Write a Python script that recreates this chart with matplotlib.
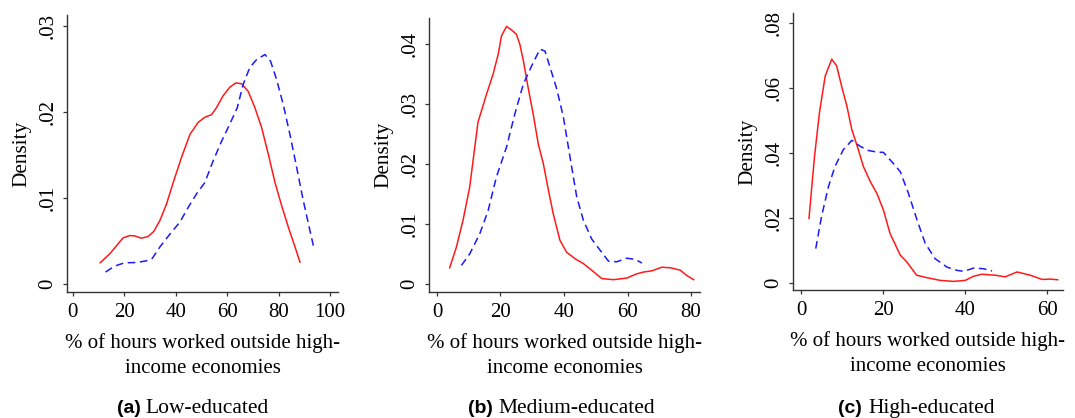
import matplotlib
matplotlib.use('Agg')
import matplotlib.pyplot as plt

plt.rcParams['font.family'] = ['Liberation Serif', 'DejaVu Serif']

# panel (a) low-educated
a_red_x = [10.6, 14.3, 19.5, 22.1, 24.0, 26.6, 29.2, 31.4, 33.8, 36.4, 39.0, 42.2, 45.5, 48.7,
           51.3, 53.9, 55.8, 58.4, 61.0, 63.4, 65.6, 68.2, 70.8, 73.4, 76.0, 78.6, 81.2, 83.8, 86.4, 88.3]
a_red_y = [2.47, 3.5, 5.37, 5.64, 5.6, 5.33, 5.52, 6.1, 7.37, 9.3, 11.8, 14.7, 17.4, 18.8,
           19.4, 19.7, 20.5, 21.9, 22.9, 23.4, 23.3, 22.4, 20.5, 18.2, 15.1, 11.8, 9.1, 6.6, 4.3, 2.55]
a_blue_x = [12.7, 16.2, 20.1, 24.7, 28.6, 30.9, 33.8, 37.7, 41.6, 44.8, 48.1, 51.3, 54.5, 57.8,
            61.0, 63.9, 66.2, 68.8, 71.4, 74.7, 76.9, 79.2, 81.8, 84.4, 87.0, 89.6, 92.2, 93.8]
a_blue_y = [1.39, 2.08, 2.47, 2.5, 2.7, 3.0, 4.3, 5.8, 7.2, 8.9, 10.5, 11.8, 14.3, 16.6,
            18.6, 20.5, 23.2, 25.2, 26.1, 26.7, 25.9, 23.8, 20.9, 17.4, 13.6, 9.7, 6.2, 4.1]

# panel (b) medium-educated
b_red_x = [4.0, 6.1, 8.2, 10.3, 12.9, 15.6, 17.7, 19.3, 20.3, 21.9, 23.5, 25.0, 26.1, 27.2, 28.7,
           30.3, 31.9, 33.5, 35.1, 36.6, 38.7, 40.8, 43.5, 46.1, 48.7, 51.9, 55.6, 59.8, 62.9,
           65.1, 67.7, 70.8, 73.5, 76.6, 78.7, 80.8]
b_red_y = [2.7, 6.1, 10.6, 16.1, 26.9, 31.6, 35.0, 38.3, 41.3, 42.9, 42.3, 41.6, 39.9, 37.2, 32.7,
           28.3, 23.3, 20.0, 15.6, 11.7, 7.3, 5.3, 4.2, 3.4, 2.3, 0.9, 0.72, 1.0, 1.7,
           2.0, 2.2, 2.8, 2.7, 2.3, 1.4, 0.72]
b_blue_x = [7.7, 10.3, 13.5, 16.1, 18.7, 21.9, 24.5, 27.2, 29.8, 32.4, 34.0, 35.6, 37.7, 39.8,
            41.9, 44.0, 46.1, 48.7, 51.4, 54.0, 56.6, 59.8, 62.4, 64.5]
b_blue_y = [3.1, 5.0, 8.4, 12.2, 17.8, 22.8, 28.3, 33.3, 36.3, 39.1, 38.8, 36.1, 32.5, 27.8,
            21.1, 14.5, 10.6, 7.5, 5.6, 3.8, 3.7, 4.3, 4.1, 3.5]

# panel (c) high-educated
c_red_x = [1.95, 3.3, 4.5, 5.9, 7.5, 8.7, 9.9, 11.2, 12.4, 14.0, 15.2, 16.9, 18.5, 20.1, 21.7,
           24.2, 25.8, 28.2, 30.7, 33.9, 37.2, 40.1, 42.1, 44.1, 47.4, 49.8, 52.7, 55.9, 58.8,
           60.8, 62.6]
c_red_y = [19.9, 39.0, 52.4, 63.7, 68.9, 66.8, 60.6, 54.4, 47.2, 41.0, 35.9, 31.2, 27.6, 22.5, 15.3,
           8.6, 6.5, 2.4, 1.65, 0.82, 0.5, 0.82, 2.1, 2.7, 2.4, 1.9, 3.4, 2.4, 1.1,
           1.2, 1.0]
c_blue_x = [3.6, 5.0, 6.7, 8.3, 10.3, 12.4, 14.4, 16.4, 18.5, 20.1, 22.1, 24.2, 26.2, 28.3,
            30.3, 32.7, 35.6, 38.0, 39.7, 42.1, 44.5, 46.6]
c_blue_y = [10.6, 20.4, 29.7, 35.9, 41.0, 43.9, 42.1, 40.8, 40.3, 40.2, 37.4, 34.3, 27.6, 19.4,
            12.2, 7.5, 4.9, 3.9, 3.6, 4.6, 4.4, 3.7]

a_xticks = [0, 20, 40, 60, 80, 100]
a_yticks = [0, 0.01, 0.02, 0.03]
a_ylabels = ['0', '.01', '.02', '.03']
b_xticks = [0, 20, 40, 60, 80]
b_yticks = [0, 0.01, 0.02, 0.03, 0.04]
b_ylabels = ['0', '.01', '.02', '.03', '.04']
c_xticks = [0, 20, 40, 60]
c_yticks = [0, 0.02, 0.04, 0.06, 0.08]
c_ylabels = ['0', '.02', '.04', '.06', '.08']

captions = [('(a)', 'Low-educated'), ('(b)', 'Medium-educated'), ('(c)', 'High-educated')]

W, H = 1075, 418
fig = plt.figure(figsize=(W / 100, H / 100), dpi=100)


def panel(box, rx, ry, bx, by, xticks, yticks, ylabels, xlim, ylim):
    l, t, r, b = box
    ax = fig.add_axes([l / W, (H - b) / H, (r - l) / W, (b - t) / H])
    ax.plot(rx, [v / 1000 for v in ry], color='#ff1a1a', lw=1.1)
    ax.plot(bx, [v / 1000 for v in by], color='#1a1aff', lw=1.1, ls=(0, (5, 3)))
    ax.set_xlim(*xlim)
    ax.set_ylim(*ylim)
    ax.set_xticks(xticks)
    ax.set_yticks(yticks)
    ax.set_yticklabels(ylabels, rotation=90, va='center')
    ax.tick_params(labelsize=15, length=3.2, width=0.9, color='#333333', pad=3.5)
    ax.tick_params(axis='x', pad=5)
    for s in ['top', 'right']:
        ax.spines[s].set_visible(False)
    for s in ['left', 'bottom']:
        ax.spines[s].set_linewidth(1.0)
        ax.spines[s].set_color('#333333')
    ax.set_ylabel('Density', fontsize=15.3, labelpad=5)
    ax.set_xlabel('% of hours worked outside high-\nincome economies', fontsize=15,
                  labelpad=8, linespacing=1.42)
    return ax


panel((67, 15, 338, 292), a_red_x, a_red_y, a_blue_x, a_blue_y,
      a_xticks, a_yticks, a_ylabels, (-2.3, 103.1), (-0.00093, 0.0313))
panel((429, 18, 700, 292), b_red_x, b_red_y, b_blue_x, b_blue_y,
      b_xticks, b_yticks, b_ylabels, (-2.5, 82.8), (-0.00133, 0.0443))
panel((793, 13, 1063, 290), c_red_x, c_red_y, c_blue_x, c_blue_y,
      c_xticks, c_yticks, c_ylabels, (-1.95, 63.9), (-0.00215, 0.0831))

# sub-captions: bold sans letter + serif text
for (tag, name), xt, xn in zip(captions, [141, 493, 862], [145, 498, 868]):
    fig.text(xt / W, 5 / H, tag, ha='right', va='baseline', fontsize=14,
             fontweight='bold', family='Liberation Sans')
    fig.text(xn / W, 5 / H, name, ha='left', va='baseline', fontsize=15.5)

plt.savefig('out.png', dpi=100)
